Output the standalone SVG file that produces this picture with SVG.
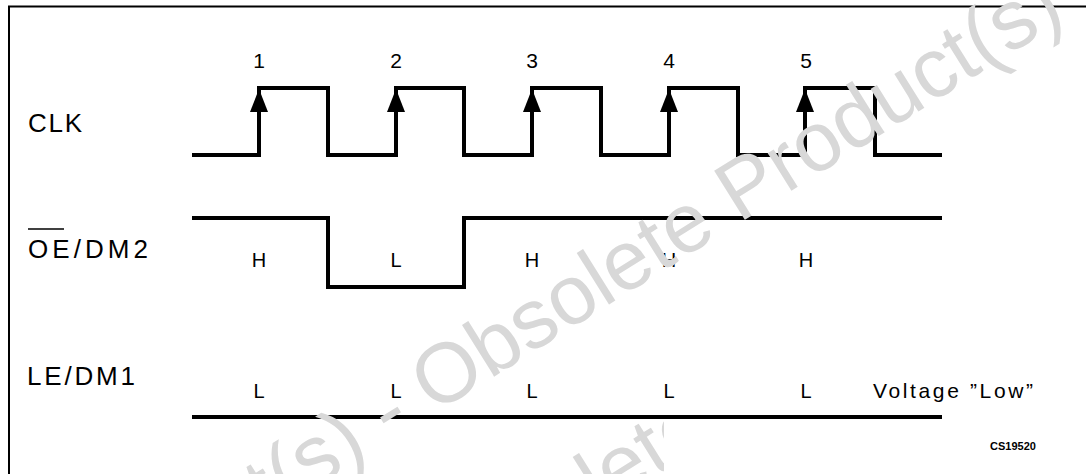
<svg xmlns="http://www.w3.org/2000/svg" width="1086" height="474" viewBox="0 0 1086 474">
<style>
.sig{fill:none;stroke:#000;stroke-width:4;stroke-linejoin:miter;stroke-linecap:butt}
.lbl{font-family:"Liberation Sans",Arial,sans-serif;font-size:26px;fill:#000}
.num{font-family:"Liberation Sans",Arial,sans-serif;font-size:21px;fill:#000;text-anchor:middle}
.lv{font-family:"Liberation Sans",Arial,sans-serif;font-size:20px;fill:#000;text-anchor:middle}
.wm{font-family:"Liberation Sans",Arial,sans-serif;font-size:84px;fill:#d8d8d8}
.arr{fill:#000}
</style>
<defs>
<clipPath id="wmclip"><rect x="0" y="0" width="664" height="474"/></clipPath>
</defs>
<rect x="0" y="0" width="1086" height="474" fill="#fff"/>
<path d="M9,480 V6.5 H1090" fill="none" stroke="#000" stroke-width="2"/>
<g id="clk">
<text class="lbl" x="28" y="132" textLength="54" lengthAdjust="spacing">CLK</text>
<text class="num" x="259" y="68">1</text>
<text class="num" x="396" y="68">2</text>
<text class="num" x="532" y="68">3</text>
<text class="num" x="669" y="68">4</text>
<text class="num" x="806" y="68">5</text>
</g>
<g id="oe">
<text class="lbl" x="28" y="258" textLength="120" lengthAdjust="spacing">OE/DM2</text>
<line x1="28" y1="229" x2="64" y2="229" stroke="#000" stroke-width="1.6"/>
<text class="lv" x="259" y="267">H</text>
<text class="lv" x="396" y="267">L</text>
<text class="lv" x="532" y="267">H</text>
<text class="lv" x="669" y="267">H</text>
<text class="lv" x="806" y="267">H</text>
</g>
<g id="le">
<text class="lbl" x="27" y="385" textLength="108" lengthAdjust="spacing">LE/DM1</text>
<text class="lv" x="259" y="398">L</text>
<text class="lv" x="396" y="398">L</text>
<text class="lv" x="532" y="398">L</text>
<text class="lv" x="669" y="398">L</text>
<text class="lv" x="806" y="398">L</text>
<text x="873" y="398" textLength="160" lengthAdjust="spacing" style="font-family:'Liberation Sans',Arial,sans-serif;font-size:21px">Voltage ”Low”</text>
<text x="990" y="450" style="font-family:'Liberation Sans',Arial,sans-serif;font-size:11px;font-weight:bold">CS19520</text>
</g>
<g id="connectors">
<path class="sig" d="M192,155 H259 V88 H328 V155 H396 V88 H464 V155 H532 V88 H601 V155 H669 V88 H738 V155 H805 V88 H875 V155 H942"/>
<path class="sig" d="M192,218 H328 V287 H464 V218 H942"/>
<path class="sig" d="M192,417 H942"/>
<g class="arr">
<polygon points="259,89 250,112 268,112"/>
<polygon points="396,89 387,112 405,112"/>
<polygon points="532,89 523,112 541,112"/>
<polygon points="669,89 660,112 678,112"/>
<polygon points="805,89 796,112 814,112"/>
</g>
</g>
<g id="watermark">
<g transform="translate(434,414) rotate(-32)">
<text class="wm" x="0" y="0" text-anchor="end">Obsolete Product(s)&#160;-&#160;</text>
<text class="wm" x="0" y="0">Obsolete Product(s)</text>
</g>
<g clip-path="url(#wmclip)">
<g transform="translate(430,618) rotate(-32)">
<text class="wm" x="0" y="0">Obsolete Product(s)</text>
</g>
</g>
</g>
</svg>
